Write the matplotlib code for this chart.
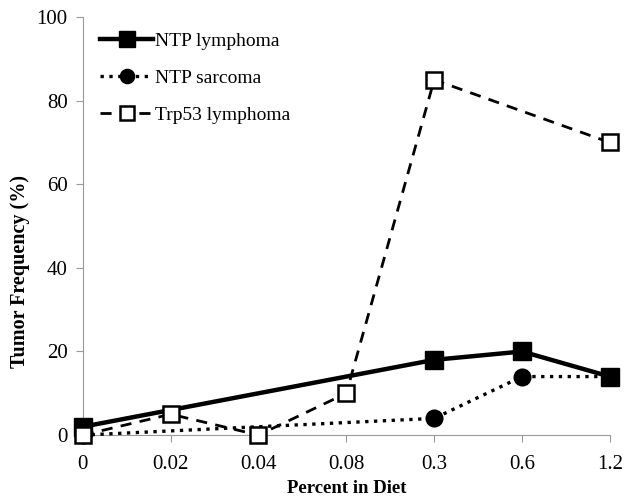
import numpy as np
import matplotlib.pyplot as plt

doses = ['0', '0.02', '0.04', '0.08', '0.3', '0.6', '1.2']

# index positions of doses that have data for each series
ntp_lym_idx = [0, 4, 5, 6]
ntp_lym = [2, 18, 20, 14]

ntp_sar_idx = [0, 4, 5, 6]
ntp_sar = [0, 4, 14, 14]

trp_idx = [0, 1, 2, 3, 4, 6]
trp_lym = [0, 5, 0, 10, 85, 70]

plt.rcParams['font.family'] = ['Liberation Serif', 'DejaVu Serif']

fig = plt.figure(figsize=(6.32, 5.03), dpi=100)
ax = fig.add_axes([0.131, 0.135, 0.834, 0.831])

ax.plot(ntp_lym_idx, ntp_lym, '-', color='black', lw=3.2, marker='s', ms=13,
        label='NTP lymphoma', zorder=3)
ax.plot(ntp_sar_idx, ntp_sar, ':', color='black', lw=2.4, marker='o', ms=12,
        label='NTP sarcoma', zorder=4)
ax.plot(trp_idx, trp_lym, '--', color='black', lw=2, dashes=(4, 3), marker='s', ms=12,
        mfc='white', mec='black', mew=1.8, label='Trp53 lymphoma', zorder=5)

ax.set_xlim(0, 6)
ax.set_ylim(0, 100)
ax.set_xticks(range(len(doses)))
ax.set_xticklabels(doses)
ax.set_yticks(np.arange(0, 101, 20))

for s in ['top', 'right']:
    ax.spines[s].set_visible(False)
for s in ['left', 'bottom']:
    ax.spines[s].set_color('#999999')
ax.tick_params(colors='#999999', labelcolor='black', labelsize=15, length=5)
ax.tick_params(axis='x', pad=9)
ax.tick_params(axis='y', pad=6)

ax.set_xlabel('Percent in Diet', fontweight='bold', fontsize=13.5, labelpad=5)
ax.set_ylabel('Tumor Frequency (%)', fontweight='bold', fontsize=14.5)
ax.yaxis.set_label_coords(-0.10, 0.392)

for p in ax.get_lines():
    p.set_clip_on(False)

leg = ax.legend(loc='upper left', bbox_to_anchor=(0.0, 1.005), frameon=False, fontsize=14,
                handlelength=2.7, labelspacing=1.0, handletextpad=0.1, markerscale=0.85)

fig.savefig('out.png', dpi=100)
